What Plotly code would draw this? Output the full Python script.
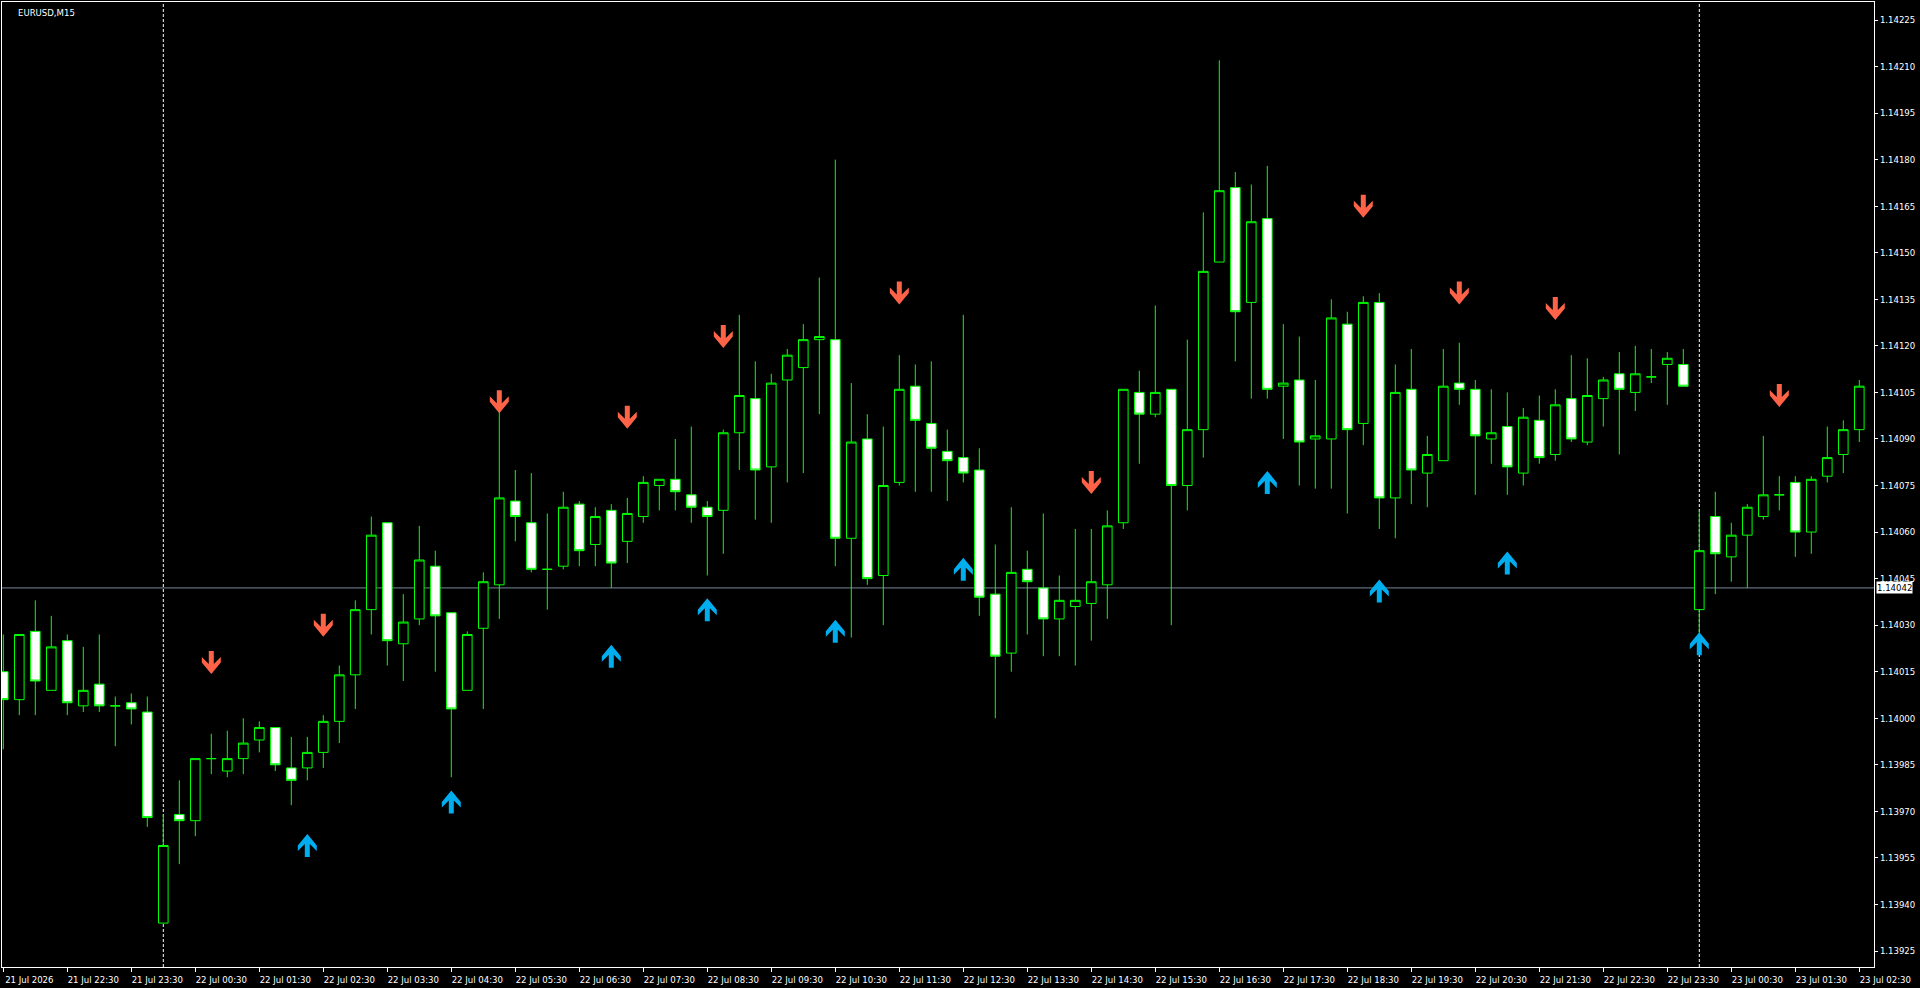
import plotly.graph_objects as go

# ---------------- data ----------------
SYMBOL = "EURUSD,M15"

OPEN = [1.14015, 1.14006, 1.14028, 1.14009, 1.14025, 1.14004, 1.14011, 1.14004, 1.14005, 1.14002,
        1.13934, 1.13969, 1.13967, 1.13987, 1.13983, 1.13987, 1.13993, 1.13997, 1.13984, 1.13984,
        1.13989, 1.13999, 1.14014, 1.14035, 1.14063, 1.14024, 1.14032, 1.14049, 1.14034, 1.14009,
        1.14029, 1.14043, 1.14070, 1.14063, 1.14048, 1.14049, 1.14069, 1.14056, 1.14067, 1.14057,
        1.14065, 1.14075, 1.14077, 1.14072, 1.14068, 1.14067, 1.14092, 1.14103, 1.14081, 1.14109,
        1.14113, 1.14122, 1.14122, 1.14058, 1.14090, 1.14046, 1.14076, 1.14107, 1.14095, 1.14086,
        1.14084, 1.14080, 1.14040, 1.14021, 1.14048, 1.14042, 1.14032, 1.14036, 1.14037, 1.14043,
        1.14063, 1.14105, 1.14098, 1.14106, 1.14075, 1.14093, 1.14147, 1.14171, 1.14134, 1.14161,
        1.14107, 1.14109, 1.14090, 1.14090, 1.14127, 1.14095, 1.14134, 1.14071, 1.14106, 1.14079,
        1.14083, 1.14108, 1.14106, 1.14090, 1.14094, 1.14079, 1.14096, 1.14085, 1.14103, 1.14089,
        1.14103, 1.14111, 1.14105, 1.14110, 1.14114, 1.14114, 1.14035, 1.14065, 1.14052, 1.14059,
        1.14065, 1.14072, 1.14076, 1.14060, 1.14078, 1.14085, 1.14093]

HIGH = [1.14027, 1.14027, 1.14038, 1.14033, 1.14027, 1.14023, 1.14027, 1.14007, 1.14008, 1.14007,
        1.13969, 1.13980, 1.13987, 1.13995, 1.13996, 1.14000, 1.13999, 1.13997, 1.13994, 1.13994,
        1.14001, 1.14017, 1.14038, 1.14065, 1.14063, 1.14040, 1.14062, 1.14054, 1.14034, 1.14028,
        1.14047, 1.14099, 1.14080, 1.14079, 1.14066, 1.14073, 1.14070, 1.14068, 1.14069, 1.14071,
        1.14078, 1.14077, 1.14090, 1.14094, 1.14070, 1.14093, 1.14130, 1.14115, 1.14111, 1.14119,
        1.14127, 1.14142, 1.14180, 1.14108, 1.14098, 1.14094, 1.14117, 1.14114, 1.14115, 1.14093,
        1.14130, 1.14087, 1.14056, 1.14068, 1.14054, 1.14066, 1.14046, 1.14061, 1.14061, 1.14067,
        1.14106, 1.14112, 1.14133, 1.14106, 1.14122, 1.14163, 1.14212, 1.14176, 1.14172, 1.14178,
        1.14127, 1.14123, 1.14109, 1.14135, 1.14131, 1.14136, 1.14137, 1.14114, 1.14119, 1.14091,
        1.14119, 1.14121, 1.14109, 1.14106, 1.14105, 1.14100, 1.14104, 1.14106, 1.14117, 1.14116,
        1.14110, 1.14118, 1.14120, 1.14119, 1.14118, 1.14119, 1.14067, 1.14073, 1.14063, 1.14069,
        1.14091, 1.14078, 1.14078, 1.14078, 1.14094, 1.14096, 1.14109]

LOW = [1.13990, 1.14001, 1.14001, 1.14009, 1.14001, 1.14002, 1.14002, 1.13991, 1.13998, 1.13965,
       1.13934, 1.13953, 1.13962, 1.13982, 1.13981, 1.13982, 1.13989, 1.13983, 1.13972, 1.13980,
       1.13984, 1.13992, 1.14003, 1.14027, 1.14017, 1.14012, 1.14030, 1.14015, 1.13981, 1.14009,
       1.14003, 1.14032, 1.14057, 1.14047, 1.14035, 1.14048, 1.14049, 1.14049, 1.14042, 1.14050,
       1.14063, 1.14067, 1.14067, 1.14063, 1.14046, 1.14053, 1.14080, 1.14064, 1.14063, 1.14076,
       1.14079, 1.14098, 1.14049, 1.14026, 1.14043, 1.14030, 1.14075, 1.14073, 1.14073, 1.14070,
       1.14076, 1.14033, 1.14000, 1.14015, 1.14027, 1.14020, 1.14020, 1.14017, 1.14025, 1.14032,
       1.14061, 1.14082, 1.14097, 1.14030, 1.14067, 1.14084, 1.14147, 1.14115, 1.14103, 1.14103,
       1.14090, 1.14075, 1.14074, 1.14074, 1.14066, 1.14088, 1.14061, 1.14058, 1.14069, 1.14068,
       1.14083, 1.14101, 1.14072, 1.14082, 1.14072, 1.14075, 1.14082, 1.14083, 1.14089, 1.14088,
       1.14094, 1.14085, 1.14099, 1.14108, 1.14101, 1.14107, 1.14026, 1.14040, 1.14044, 1.14042,
       1.14064, 1.14067, 1.14052, 1.14053, 1.14076, 1.14079, 1.14089]

CLOSE = [1.14006, 1.14027, 1.14012, 1.14023, 1.14005, 1.14009, 1.14004, 1.14004, 1.14003, 1.13968,
         1.13959, 1.13967, 1.13987, 1.13987, 1.13987, 1.13992, 1.13997, 1.13985, 1.13980, 1.13989,
         1.13999, 1.14014, 1.14035, 1.14059, 1.14025, 1.14031, 1.14051, 1.14033, 1.14003, 1.14027,
         1.14044, 1.14071, 1.14065, 1.14048, 1.14048, 1.14068, 1.14054, 1.14065, 1.14050, 1.14066,
         1.14076, 1.14077, 1.14073, 1.14068, 1.14065, 1.14092, 1.14104, 1.14080, 1.14108, 1.14117,
         1.14122, 1.14123, 1.14058, 1.14089, 1.14045, 1.14075, 1.14106, 1.14096, 1.14087, 1.14083,
         1.14079, 1.14039, 1.14020, 1.14047, 1.14044, 1.14032, 1.14038, 1.14038, 1.14044, 1.14062,
         1.14106, 1.14098, 1.14105, 1.14075, 1.14093, 1.14144, 1.14170, 1.14131, 1.14160, 1.14106,
         1.14108, 1.14089, 1.14091, 1.14129, 1.14093, 1.14134, 1.14071, 1.14105, 1.14080, 1.14085,
         1.14107, 1.14106, 1.14091, 1.14092, 1.14081, 1.14097, 1.14084, 1.14101, 1.14090, 1.14104,
         1.14109, 1.14106, 1.14111, 1.14110, 1.14116, 1.14107, 1.14054, 1.14053, 1.14059, 1.14068,
         1.14072, 1.14072, 1.14060, 1.14077, 1.14084, 1.14093, 1.14107]

BAR_INDEX = list(range(len(OPEN)))

X_TICK_BARS = list(range(0, len(OPEN), 4))
X_TICK_LABELS = ["21 Jul 2026", "21 Jul 22:30", "21 Jul 23:30",
                 "22 Jul 00:30", "22 Jul 01:30", "22 Jul 02:30", "22 Jul 03:30",
                 "22 Jul 04:30", "22 Jul 05:30", "22 Jul 06:30", "22 Jul 07:30",
                 "22 Jul 08:30", "22 Jul 09:30", "22 Jul 10:30", "22 Jul 11:30",
                 "22 Jul 12:30", "22 Jul 13:30", "22 Jul 14:30", "22 Jul 15:30",
                 "22 Jul 16:30", "22 Jul 17:30", "22 Jul 18:30", "22 Jul 19:30",
                 "22 Jul 20:30", "22 Jul 21:30", "22 Jul 22:30", "22 Jul 23:30",
                 "23 Jul 00:30", "23 Jul 01:30", "23 Jul 02:30"]

Y_TICK_VALUES = [1.13925, 1.13940, 1.13955, 1.13970, 1.13985, 1.14000, 1.14015,
                 1.14030, 1.14045, 1.14060, 1.14075, 1.14090, 1.14105, 1.14120,
                 1.14135, 1.14150, 1.14165, 1.14180, 1.14195, 1.14210, 1.14225]
Y_TICK_LABELS = ["%.5f" % v for v in Y_TICK_VALUES]

SELL_BARS = [13, 20, 31, 39, 45, 56, 68, 85, 91, 97, 111]
SELL_PRICES = [1.14018, 1.14030, 1.14102, 1.14097, 1.14123, 1.14137, 1.14076,
               1.14165, 1.14137, 1.14132, 1.14104]
BUY_BARS = [19, 28, 38, 44, 52, 60, 79, 86, 94, 106]
BUY_PRICES = [1.13959, 1.13973, 1.14020, 1.14035, 1.14028, 1.14048, 1.14076,
              1.14041, 1.14050, 1.14024]

DAY_SEPARATOR_BARS = [10, 106]
BID_PRICE = 1.14042

Y_RANGE = [1.1391985, 1.142308]
X_RANGE = [-0.08125, 116.91875]

# ---------------- styles ----------------
FONT = "DejaVu Sans Condensed, DejaVu Sans, sans-serif"
CANDLE_GREEN = "#00FF00"
SELL_COLOR = "#FF6347"
BUY_COLOR = "#00AEEF"

DOWN_PATH = "M-2.5,11.5 L2.5,11.5 L2.5,-1.5 L9.5,5.5 L9.5,0 L0,-11.5 L-9.5,0 L-9.5,5.5 L-2.5,-1.5 Z"
UP_PATH = "M-2.5,-11.5 L2.5,-11.5 L2.5,1.5 L9.5,-5.5 L9.5,0 L0,11.5 L-9.5,0 L-9.5,-5.5 L-2.5,1.5 Z"

fig = go.Figure()

fig.add_trace(go.Candlestick(
    x=BAR_INDEX, open=OPEN, high=HIGH, low=LOW, close=CLOSE,
    increasing=dict(line=dict(color=CANDLE_GREEN, width=1), fillcolor="#000000"),
    decreasing=dict(line=dict(color=CANDLE_GREEN, width=1), fillcolor="#FFFFFF"),
    whiskerwidth=0, showlegend=False, hoverinfo="skip",
))

shapes = []
for b in DAY_SEPARATOR_BARS:
    shapes.append(dict(type="line", xref="x", yref="paper", x0=b, x1=b, y0=0, y1=1,
                       line=dict(color="#FFFFFF", width=1, dash="3px,2px"), layer="below"))
shapes.append(dict(type="line", xref="paper", yref="y", x0=0, x1=1, y0=BID_PRICE, y1=BID_PRICE,
                   line=dict(color="#778899", width=1), layer="below"))
for b, p in zip(SELL_BARS, SELL_PRICES):
    shapes.append(dict(type="path", xref="x", yref="y", xsizemode="pixel", ysizemode="pixel",
                       xanchor=b, yanchor=p, path=DOWN_PATH, fillcolor=SELL_COLOR,
                       line=dict(width=0), layer="above"))
for b, p in zip(BUY_BARS, BUY_PRICES):
    shapes.append(dict(type="path", xref="x", yref="y", xsizemode="pixel", ysizemode="pixel",
                       xanchor=b, yanchor=p, path=UP_PATH, fillcolor=BUY_COLOR,
                       line=dict(width=0), layer="above"))

annotations = [
    dict(text=SYMBOL, xref="paper", yref="paper", x=0, y=1, xanchor="left", yanchor="top",
         xshift=14, yshift=-3, showarrow=False, font=dict(family=FONT, size=9.5, color="#FFFFFF")),
    dict(text="%.5f" % BID_PRICE, xref="paper", yref="y", x=1, y=BID_PRICE, xanchor="left",
         yanchor="middle", xshift=2, showarrow=False, bgcolor="#FFFFFF", borderpad=0,
         font=dict(family=FONT, size=9.5, color="#000000")),
]

fig.update_layout(
    width=1920, height=988, autosize=False,
    margin=dict(l=2, r=46, t=2, b=21, pad=0),
    paper_bgcolor="#000000", plot_bgcolor="#000000",
    font=dict(family=FONT, size=9.5, color="#FFFFFF"),
    showlegend=False, hovermode=False, dragmode=False,
    boxgap=0.4, boxgroupgap=0,
    shapes=shapes, annotations=annotations,
    xaxis=dict(range=X_RANGE, rangeslider=dict(visible=False), showgrid=False, zeroline=False,
               tickmode="array", tickvals=X_TICK_BARS, ticktext=X_TICK_LABELS,
               ticks="outside", ticklen=4, tickcolor="#FFFFFF", tickwidth=1,
               tickfont=dict(family=FONT, size=9.5, color="#FFFFFF"), ticklabelshift=26,
               showline=True, linecolor="#FFFFFF", linewidth=1, mirror=True, automargin=False),
    yaxis=dict(range=Y_RANGE, side="right", showgrid=False, zeroline=False,
               tickmode="array", tickvals=Y_TICK_VALUES, ticktext=Y_TICK_LABELS,
               ticks="outside", ticklen=3, tickcolor="#FFFFFF", tickwidth=1,
               tickfont=dict(family=FONT, size=9.5, color="#FFFFFF"),
               showline=True, linecolor="#FFFFFF", linewidth=1, mirror=True, automargin=False),
)

fig.write_html("out.html", config={"displayModeBar": False, "staticPlot": True})
